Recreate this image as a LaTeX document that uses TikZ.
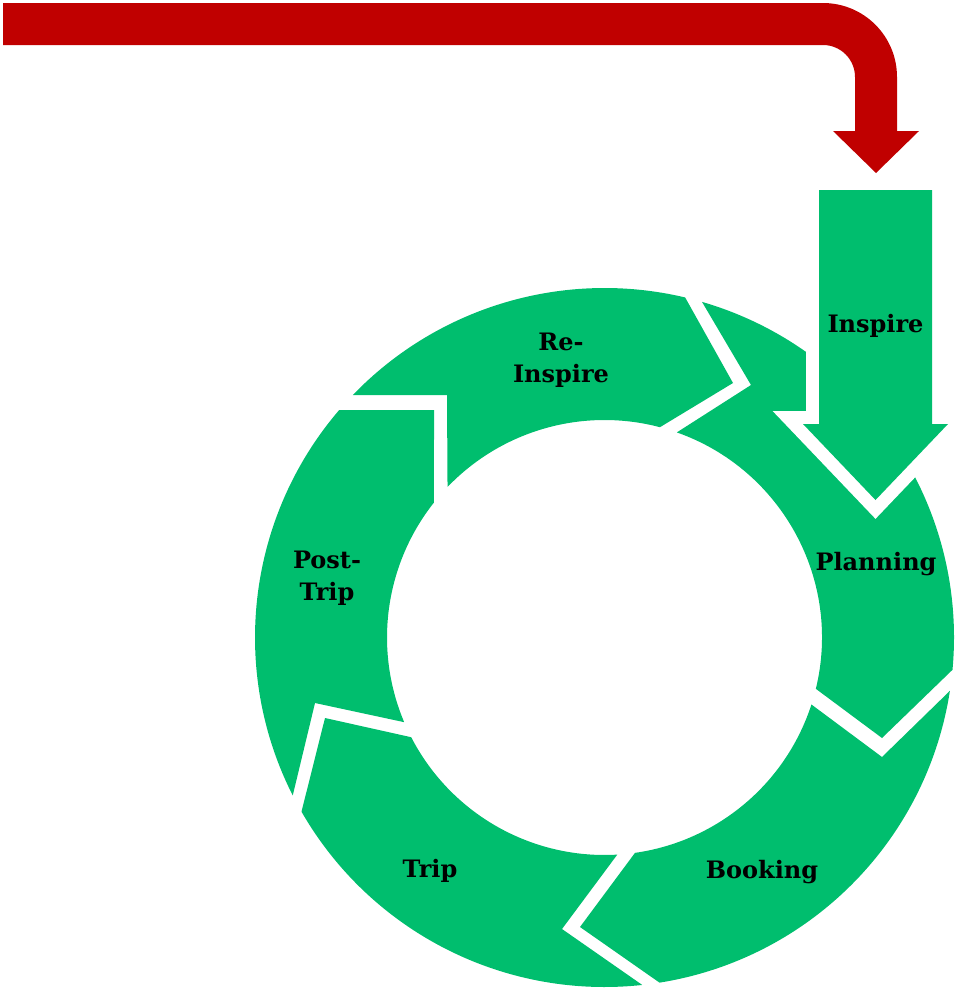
\documentclass[tikz,border=0pt]{standalone}
\usepackage{fontspec}
\setmainfont{DejaVu Serif}
\usetikzlibrary{calc}
\definecolor{ringgreen}{RGB}{0,190,110}
\definecolor{flowred}{RGB}{192,0,0}
\tikzset{
  seg/.style={fill=ringgreen},
  lbl/.style={font=\bfseries\fontsize{24}{32}\selectfont, text=black, inner sep=0pt, align=center},
  inspirearrow/.style={fill=ringgreen, draw=white, line width=26pt, line join=miter},
  redarrow/.style={fill=flowred},
}
\begin{document}
\begin{tikzpicture}[x=1pt,y=-1pt]
\useasboundingbox (0,0) rectangle (956,988);
\coordinate (C) at (604.5,637.5);

% Re-Inspire
\path[seg] ($(C)+(-136.07:349.5)$) arc[start angle=-136.07, end angle=-76.66, radius=349.5]
  -- (733,383) -- ($(C)+(-75.23:217.5)$) arc[start angle=-75.23, end angle=-136.2, radius=217.5]
  -- (447,395) -- cycle;
% Planning
\path[seg] ($(C)+(-73.8:349.5)$) arc[start angle=-73.8, end angle=5.30, radius=349.5]
  -- (882,738) -- ($(C)+(13.65:217.5)$) arc[start angle=13.65, end angle=-70.57, radius=217.5]
  -- (751,385) -- cycle;
% Booking
\path[seg] ($(C)+(8.78:349.5)$) arc[start angle=8.78, end angle=80.94, radius=349.5]
  -- (580,927) -- ($(C)+(81.94:217.5)$) arc[start angle=81.94, end angle=17.94, radius=217.5]
  -- (882,757) -- cycle;
% Trip
\path[seg] ($(C)+(83.80:349.5)$) arc[start angle=83.80, end angle=150.11, radius=349.5]
  -- (325,718) -- ($(C)+(152.71:217.5)$) arc[start angle=152.71, end angle=86.63, radius=217.5]
  -- (562,929) -- cycle;
% Post-Trip
\path[seg] ($(C)+(153.13:349.5)$) arc[start angle=153.13, end angle=220.61, radius=349.5]
  -- (434,410) -- ($(C)+(218.37:217.5)$) arc[start angle=218.37, end angle=157.09, radius=217.5]
  -- (315,703) -- cycle;

% Inspire arrow (white outline cuts the ring)
\path[inspirearrow] (819,190) -- (932,190) -- (932,424) -- (948,424) -- (875.5,500)
  -- (803,424) -- (819,424) -- cycle;
\path[fill=ringgreen] (819,190) -- (932,190) -- (932,424) -- (948,424) -- (875.5,500)
  -- (803,424) -- (819,424) -- cycle;

% red bent arrow
\path[redarrow] (3,3) -- (823,3) arc[start angle=-90, end angle=0, radius=74]
  -- (897,131) -- (919,131) -- (876,173) -- (833,131) -- (855,131) -- (855,77)
  arc[start angle=0, end angle=-90, radius=32] -- (3,45) -- cycle;

% labels
\node[lbl, anchor=base] (inspire) at (875.5,332) {Inspire};
\node[lbl, anchor=base] (planning) at (876,570) {Planning};
\node[lbl, anchor=base] (booking) at (762,878) {Booking};
\node[lbl, anchor=base] (trip) at (430,877) {Trip};
\node[lbl] (posttrip) at (327,578) {Post-\\Trip};
\node[lbl] (reinspire) at (561,360) {Re-\\Inspire};
\end{tikzpicture}
\end{document}
